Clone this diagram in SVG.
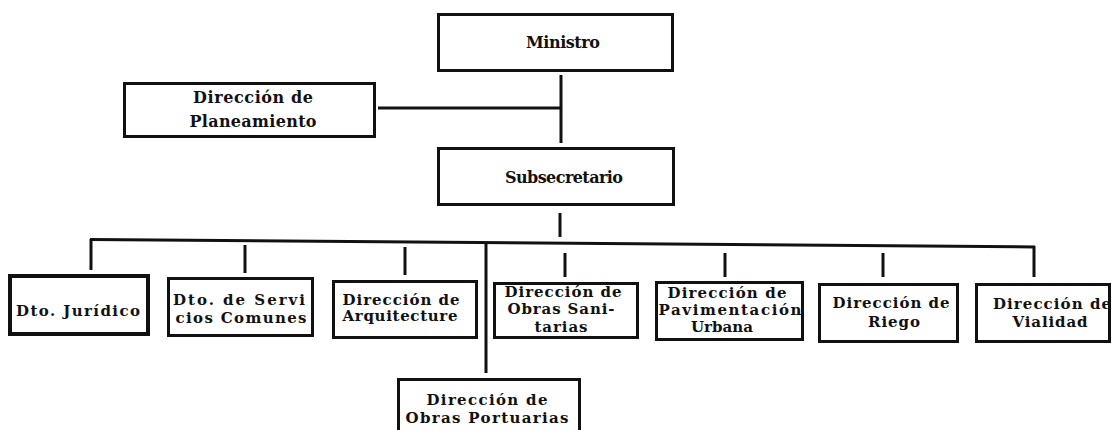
<svg xmlns="http://www.w3.org/2000/svg" width="1112" height="430" viewBox="0 0 1112 430">
<style>
.box{fill:#fff;stroke:#111;stroke-width:3}
.thick{stroke-width:4}
.conn{stroke:#111;stroke-width:3;fill:none;stroke-linecap:butt}
text{font-family:"DejaVu Serif","Liberation Serif",serif;font-weight:bold;fill:#111;text-anchor:middle}
.t{font-size:16px}
.r{font-size:15px}
</style>
<rect width="1112" height="430" fill="#fff"/>
<g id="connectors">
<line class="conn" x1="561" y1="75" x2="561" y2="143"/>
<line class="conn" x1="378" y1="108" x2="561" y2="108"/>
<line class="conn" x1="560" y1="213" x2="560" y2="237"/>
<line class="conn" x1="90" y1="239.5" x2="1035" y2="247"/>
<line class="conn" x1="91" y1="239" x2="91" y2="270"/>
<line class="conn" x1="245" y1="245" x2="245" y2="273"/>
<line class="conn" x1="405" y1="247" x2="405" y2="275"/>
<line class="conn" x1="565" y1="253" x2="565" y2="277"/>
<line class="conn" x1="725" y1="253" x2="725" y2="277"/>
<line class="conn" x1="883" y1="253" x2="883" y2="277"/>
<line class="conn" x1="1034" y1="246" x2="1034" y2="277"/>
<line class="conn" x1="486" y1="244" x2="486" y2="373"/>
</g>
<g id="ministro">
<rect class="box" x="438.5" y="14.5" width="234" height="56"/>
<text class="t" x="563" y="48" textLength="74">Ministro</text>
</g>
<g id="planeamiento">
<rect class="box" x="124.5" y="83.5" width="250" height="53"/>
<text class="t" x="253" y="103" textLength="120">Dirección de</text>
<text class="t" x="253" y="127" textLength="127">Planeamiento</text>
</g>
<g id="subsecretario">
<rect class="box" x="438.5" y="148.5" width="235" height="56"/>
<text class="t" x="564" y="183" textLength="118">Subsecretario</text>
</g>
<g id="juridico">
<rect class="box thick" x="10" y="276" width="138" height="58"/>
<text class="r" x="78" y="316" textLength="124">Dto. Jurídico</text>
</g>
<g id="servicios">
<rect class="box" x="168.5" y="278.5" width="144" height="57"/>
<text class="r" x="239" y="305" textLength="132">Dto. de Servi</text>
<text class="r" x="241" y="323" textLength="131">cios Comunes</text>
</g>
<g id="arquitectura">
<rect class="box" x="333.5" y="281.5" width="143" height="56"/>
<text class="r" x="401" y="305" textLength="117">Dirección de</text>
<text class="r" x="400" y="321" textLength="115">Arquitecture</text>
</g>
<g id="sanitarias">
<rect class="box" x="494.5" y="283.5" width="143" height="54"/>
<text class="r" x="563" y="297" textLength="117">Dirección de</text>
<text class="r" x="561" y="314" textLength="107">Obras Sani-</text>
<text class="r" x="561" y="332" textLength="53">tarias</text>
</g>
<g id="pavimentacion">
<rect class="box" x="656.5" y="282.5" width="146" height="57"/>
<text class="r" x="727" y="298" textLength="119">Dirección de</text>
<text class="r" x="730" y="315" textLength="143">Pavimentación</text>
<text class="r" x="722" y="332" textLength="62">Urbana</text>
</g>
<g id="riego">
<rect class="box" x="819.5" y="284.5" width="138" height="57"/>
<text class="r" x="891" y="308" textLength="117">Dirección de</text>
<text class="r" x="894" y="327" textLength="52">Riego</text>
</g>
<g id="vialidad">
<rect class="box" x="976.5" y="284.5" width="133" height="57"/>
<text class="r" x="1052" y="309" textLength="118">Dirección de</text>
<text class="r" x="1050" y="327" textLength="75">Vialidad</text>
</g>
<g id="portuarias">
<rect class="box" x="398.5" y="379.5" width="181" height="70"/>
<text class="r" x="487" y="405" textLength="121">Dirección de</text>
<text class="r" x="487" y="423" textLength="163">Obras Portuarias</text>
</g>
</svg>
